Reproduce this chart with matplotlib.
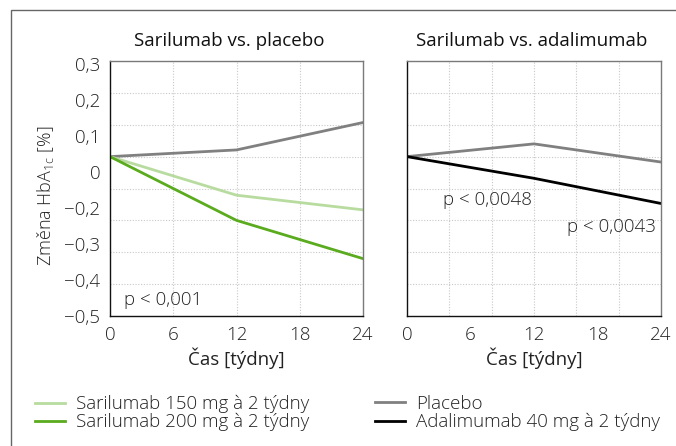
import matplotlib
matplotlib.use("Agg")
import matplotlib.pyplot as plt
import numpy as np
from matplotlib.patches import Rectangle
from matplotlib.lines import Line2D

plt.rcParams['font.family'] = ['Open Sans', 'DejaVu Sans']
plt.rcParams['font.weight'] = 300
plt.rcParams['mathtext.fontset'] = 'custom'
plt.rcParams['mathtext.rm'] = 'Open Sans:weight=300'
plt.rcParams['mathtext.it'] = 'Open Sans:weight=300'
plt.rcParams['mathtext.default'] = 'rm'

weeks = [0, 12, 24]
left_placebo = [0.0, 0.021, 0.107]
sari150 = [0.0, -0.121, -0.167]
sari200 = [0.0, -0.200, -0.320]
right_placebo = [0.0, 0.040, -0.017]
adalimumab = [0.0, -0.068, -0.147]

ytick_labels = ['0,3', '0,2', '0,1', '0', '\u22120,2', '\u22120,3', '\u22120,4', '\u22120,5']
xtick_vals = [0, 6, 12, 18, 24]

c_placebo = '#808080'
c_150 = '#b8dc9f'
c_200 = '#5aab1e'
c_ada = '#000000'

FS = 13.5
W, H = 676, 446
fig = plt.figure(figsize=(W/100, H/100), dpi=100)

def px_ax(x0, x1, y0, y1):
    return fig.add_axes([x0/W, 1-y1/H, (x1-x0)/W, (y1-y0)/H])

ax1 = px_ax(110, 363, 61, 316)
ax2 = px_ax(407, 661, 61, 316)

for ax, vgrid in ((ax1, [6, 12, 18]), (ax2, [4, 8, 12, 16, 20])):
    ax.set_xlim(0, 24)
    ax.set_ylim(-0.5, 0.3)
    for v in vgrid:
        ax.axvline(v, color='#c8c8c8', lw=0.8, ls=(0, (1, 1.5)), zorder=0)
    for h in np.arange(-0.4, 0.25, 0.1):
        ax.axhline(h, color='#c8c8c8', lw=0.8, ls=(0, (1, 1.5)), zorder=0)
    ax.set_xticks(xtick_vals)
    ax.set_xticklabels([str(v) for v in xtick_vals])
    ax.tick_params(length=0, labelsize=FS, colors='#222222', pad=7)
    ax.spines['top'].set_color('#7a7a7a')
    ax.spines['right'].set_color('#7a7a7a')
    ax.spines['left'].set_color('#111111')
    ax.spines['bottom'].set_color('#111111')
    for s in ax.spines.values():
        s.set_linewidth(1.0)
    ax.set_xlabel('\u010cas [t\u00fddny]', fontsize=FS, color='#222222', labelpad=3)

ax1.set_yticks(np.linspace(0.29, -0.5, 8))
ax1.set_yticklabels(ytick_labels)
ax2.set_yticks([])

ax1.plot(weeks, left_placebo, color=c_placebo, lw=2)
ax1.plot(weeks, sari150, color=c_150, lw=2)
ax1.plot(weeks, sari200, color=c_200, lw=2)
ax2.plot(weeks, right_placebo, color=c_placebo, lw=2)
ax2.plot(weeks, adalimumab, color=c_ada, lw=2)

ax1.set_title('Sarilumab vs. placebo', fontsize=FS, pad=11, color='#111111',
              fontweight=400, x=0.47)
ax2.set_title('Sarilumab vs. adalimumab', fontsize=FS, pad=11, color='#111111',
              fontweight=400, x=0.49)
ax1.set_ylabel('Zm\u011bna HbA$_{1c}$ [%]', fontsize=13, color='#222222', fontweight=300)
ax1.yaxis.set_label_coords(-0.215, 0.47)

ax1.text(1.3, -0.45, 'p < 0,001', fontsize=FS, color='#222222', va='center', ha='left')
ax2.text(3.4, -0.135, 'p < 0,0048', fontsize=FS, color='#222222', va='center', ha='left')
ax2.text(15.1, -0.22, 'p < 0,0043', fontsize=FS, color='#222222', va='center', ha='left')

fig.add_artist(Rectangle((11/W, -0.1), 1.2, 1 - 10/H + 0.1, transform=fig.transFigure,
                         fill=False, edgecolor='#666666', lw=1.0))

h1 = [Line2D([], [], color=c_150, lw=2), Line2D([], [], color=c_200, lw=2)]
h2 = [Line2D([], [], color=c_placebo, lw=2), Line2D([], [], color=c_ada, lw=2)]
kw = dict(frameon=False, fontsize=FS, handlelength=1.6, handletextpad=0.6,
          labelspacing=0.0, borderaxespad=0, borderpad=0)
leg1 = fig.legend(h1, ['Sarilumab 150 mg \u00e0 2 t\u00fddny', 'Sarilumab 200 mg \u00e0 2 t\u00fddny'],
                  loc='upper left', bbox_to_anchor=(35/W, 1-395/H), **kw)
leg2 = fig.legend(h2, ['Placebo', 'Adalimumab 40 mg \u00e0 2 t\u00fddny'],
                  loc='upper left', bbox_to_anchor=(375/W, 1-395/H), **kw)
for leg in (leg1, leg2):
    for t in leg.get_texts():
        t.set_color('#222222')

fig.savefig('out.png', dpi=100)
